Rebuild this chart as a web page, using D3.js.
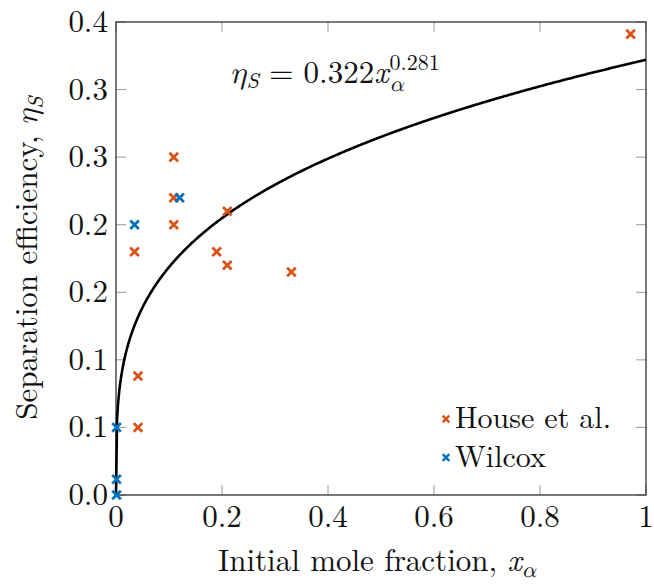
<!DOCTYPE html>
<html>
<head>
<meta charset="utf-8">
<script src="https://cdn.jsdelivr.net/npm/d3@7"></script>
<style>
  body { margin: 0; background: #fff; }
</style>
</head>
<body>
<div id="chart"></div>
<script>
// data
const houseX = [0.035, 0.109, 0.109, 0.109, 0.21, 0.19, 0.21, 0.331, 0.971, 0.0415, 0.0415];
const houseY = [0.180, 0.250, 0.220, 0.200, 0.210, 0.180, 0.170, 0.165, 0.341, 0.088, 0.050];
const wilcoxX = [0.035, 0.12, 0.001, 0.001, 0.001];
const wilcoxY = [0.200, 0.220, 0.050, 0.0116, 0.0];
const fitA = 0.322, fitB = 0.281;

const xTicks = [0, 0.2, 0.4, 0.6, 0.8, 1];
const xTickLabels = ["0", "0.2", "0.4", "0.6", "0.8", "1"];
const yTicks = [0, 0.05, 0.1, 0.15, 0.2, 0.25, 0.3, 0.35];
const yTickLabels = ["0.0", "0.1", "0.1", "0.2", "0.2", "0.3", "0.3", "0.4"];
const seriesNames = ["House et al.", "Wilcox"];

const W = 654, H = 585;
const pLeft = 116, pRight = 646, pTop = 22, pBottom = 495;
const orange = "#D95319", blue = "#0072BD";
const serifFont = '"Latin Modern Roman", "Latin Modern Math", "Liberation Serif", serif';

const svg = d3.select("#chart").append("svg")
  .attr("width", W).attr("height", H)
  .attr("font-family", serifFont)
  .style("font-family", serifFont);

const x = d3.scaleLinear().domain([0, 1]).range([pLeft, pRight]);
const y = d3.scaleLinear().domain([0, 0.35]).range([pBottom, pTop]);

// ticks (inward, gray, mirrored)
const tickLen = 10;
const grid = svg.append("g").attr("stroke", "#9a9a9a").attr("stroke-width", 1);
xTicks.forEach(t => {
  grid.append("line").attr("x1", x(t)).attr("x2", x(t)).attr("y1", pBottom).attr("y2", pBottom - tickLen);
  grid.append("line").attr("x1", x(t)).attr("x2", x(t)).attr("y1", pTop).attr("y2", pTop + tickLen);
});
yTicks.forEach(t => {
  grid.append("line").attr("y1", y(t)).attr("y2", y(t)).attr("x1", pLeft).attr("x2", pLeft + tickLen);
  grid.append("line").attr("y1", y(t)).attr("y2", y(t)).attr("x1", pRight).attr("x2", pRight - tickLen);
});

// frame
svg.append("rect")
  .attr("x", pLeft).attr("y", pTop)
  .attr("width", pRight - pLeft).attr("height", pBottom - pTop)
  .attr("fill", "none").attr("stroke", "#222").attr("stroke-width", 1.2);

// tick labels
svg.append("g").selectAll("text").data(xTicks).join("text")
  .attr("x", d => x(d)).attr("y", 527)
  .attr("text-anchor", "middle").attr("font-size", 31).attr("fill", "#111")
  .text((d, i) => xTickLabels[i]);

svg.append("g").selectAll("text").data(yTicks).join("text")
  .attr("x", pLeft - 8).attr("y", d => y(d) + 10)
  .attr("text-anchor", "end").attr("font-size", 31).attr("fill", "#111")
  .text((d, i) => yTickLabels[i]);

// fitted curve
const curveX = d3.range(0, 1.0001, 0.002);
const line = d3.line().x(d => x(d)).y(d => y(fitA * Math.pow(d, fitB)));
svg.append("path")
  .datum(curveX)
  .attr("d", line)
  .attr("fill", "none").attr("stroke", "#000").attr("stroke-width", 2.6);

// markers
function cross(g, cx, cy, r, color, w) {
  g.append("path")
    .attr("d", `M${cx - r},${cy - r}L${cx + r},${cy + r}M${cx - r},${cy + r}L${cx + r},${cy - r}`)
    .attr("stroke", color).attr("stroke-width", w).attr("fill", "none");
}
const marks = svg.append("g");
houseX.forEach((d, i) => cross(marks, x(d), y(houseY[i]), 4.3, orange, 2.8));
wilcoxX.forEach((d, i) => cross(marks, x(d), y(wilcoxY[i]), 4.3, blue, 2.8));

// equation label
const eqX = 230;
const eq = svg.append("text").attr("x", eqX).attr("y", 83)
  .attr("font-size", 31).attr("fill", "#111");
eq.append("tspan").attr("font-style", "italic").text("η");
eq.append("tspan").attr("font-style", "italic").attr("font-size", 22).attr("dy", 5).text("S");
eq.append("tspan").attr("dy", -5).text(" = 0.322");
eq.append("tspan").attr("font-style", "italic").text("x");
const eqEnd = eqX + eq.node().getComputedTextLength();
svg.append("text").attr("x", eqEnd + 1).attr("y", 91).attr("fill", "#111")
  .attr("font-size", 22).attr("font-style", "italic").text("α");
svg.append("text").attr("x", eqEnd + 1).attr("y", 70).attr("fill", "#111")
  .attr("font-size", 22).text("0.281");

// axis labels
svg.append("text")
  .attr("x", 218).attr("y", 571)
  .attr("font-size", 31).attr("fill", "#111")
  .call(t => {
    t.append("tspan").text("Initial mole fraction, ");
    t.append("tspan").attr("font-style", "italic").text("x");
    t.append("tspan").attr("font-style", "italic").attr("font-size", 22).attr("dy", 6).text("α");
  });

svg.append("text")
  .attr("transform", `translate(37,258) rotate(-90)`)
  .attr("text-anchor", "middle")
  .attr("font-size", 31).attr("fill", "#111")
  .call(t => {
    t.append("tspan").text("Separation efficiency, ");
    t.append("tspan").attr("font-style", "italic").text("η");
    t.append("tspan").attr("font-style", "italic").attr("font-size", 22).attr("dy", 6).text("S");
  });

// legend
const legColors = [orange, blue];
const leg = svg.append("g");
seriesNames.forEach((name, i) => {
  const ly = 419 + i * 38.5;
  cross(leg, 446, ly, 3.3, legColors[i], 2.4);
  leg.append("text").attr("x", 455).attr("y", ly + 9)
    .attr("font-size", 30).attr("fill", "#111").text(name);
});
</script>
</body>
</html>
